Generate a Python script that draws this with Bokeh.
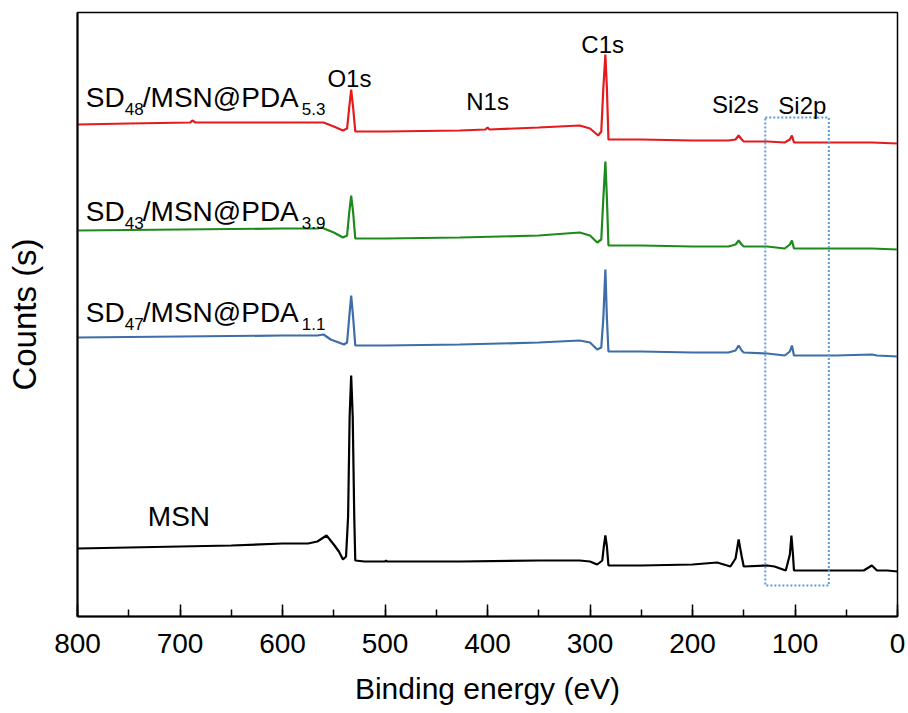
from bokeh.plotting import figure
from bokeh.models import Range1d, SingleIntervalTicker, FixedTicker
from bokeh.core.properties import value
from bokeh.embed import file_html
from bokeh.resources import INLINE

# ---- data (binding energy in eV, counts in arbitrary units, offset stacked) ----
msn_x = [800, 750, 700, 650, 600, 575, 566, 557, 550, 545, 541, 538, 536, 534.5, 533, 531.5, 530, 529,
         520, 500, 499, 498, 450, 427, 350, 310, 300, 293, 288, 286.5, 285, 283.5, 282, 250, 200, 176,
         163, 158, 155, 152, 150, 127, 120, 109, 105, 103.5, 102, 101, 60, 33, 25, 20, 10, 0]
msn_y = [68, 69, 70, 71, 73, 73, 75, 81, 72, 65, 57, 60, 100, 200, 241, 200, 100, 56,
         55, 55, 56, 55, 55, 55, 56, 56, 55, 52, 56, 70, 81, 70, 51, 51, 52, 54,
         50, 58, 77, 60, 50, 51, 50, 46, 62, 81, 62, 46, 46, 46, 51, 46, 46, 45]

sd47_x = [800, 700, 600, 566, 560, 553, 540, 537, 535, 533, 531, 529, 500, 427, 350, 310, 300, 293,
          289, 287, 285, 283.5, 282, 250, 200, 165, 158, 155, 152, 150, 127, 110, 105, 103, 101,
          60, 25, 20, 0]
sd47_y = [279, 280, 281, 281, 282, 277, 272, 274, 298, 321, 298, 271, 271, 272, 274, 276, 274, 267,
          269, 298, 347, 298, 265, 265, 264, 264, 266, 271, 266, 264, 263, 261, 265, 271, 261,
          261, 262, 261, 260]

sd43_x = [800, 700, 600, 566, 562, 550, 541, 537, 535, 533, 531, 529, 500, 427, 350, 310, 300, 293,
          289, 287, 285, 283.5, 282, 250, 200, 165, 158, 155, 152, 150, 127, 110, 105, 103, 101,
          60, 25, 0]
sd43_y = [386, 387, 388, 388, 389, 384, 379, 381, 403, 421, 403, 378, 378, 379, 381, 384, 381, 374,
          377, 418, 455, 418, 371, 371, 370, 370, 372, 376, 372, 370, 370, 368, 372, 376, 368,
          368, 368, 367]

sd48_x = [800, 750, 690, 688, 685, 600, 560, 550, 541, 537, 535, 533, 531, 529, 500, 427, 402, 400,
          398, 350, 310, 300, 292, 289, 287, 285, 283.5, 282, 250, 200, 165, 158, 155, 152, 150,
          127, 110, 105, 103, 101, 60, 25, 0]
sd48_y = [492, 493, 494, 496, 494, 494, 494, 490, 486, 488, 508, 527, 508, 485, 485, 486, 487, 489,
          487, 489, 491, 488, 481, 485, 528, 562, 528, 477, 477, 476, 476, 477, 481, 477, 475,
          475, 474, 477, 481, 474, 474, 474, 473]

series_colors = ["#000000", "#3D6EA7", "#1E8A1E", "#E41A1C"]

# dotted Si2p box
box_left, box_right, box_bottom, box_top = 129, 67, 31, 499

# peak labels
peak_labels = ["O1s", "N1s", "C1s", "Si2s", "Si2p"]
peak_label_x = [534.7, 399.9, 287.6, 158.2, 92.8]
peak_label_y = [538, 515, 572, 512, 511]

# sample labels (main text pieces and subscripts)
sample_main = ["SD", "/MSN@PDA", "SD", "/MSN@PDA", "SD", "/MSN@PDA", "MSN"]
sample_main_x = [792, 736.3, 792, 736.3, 792, 736.3, 731.4]
sample_main_y = [519, 519, 405, 405, 304, 304, 100]
sample_sub = ["48", "5.3", "43", "3.9", "47", "1.1"]
sample_sub_x = [753.9, 581.1, 753.9, 581.1, 753.9, 581.1]
sample_sub_y = [508, 508, 394, 394, 293, 293]

FONT = value("Liberation Sans")

p = figure(frame_width=820, frame_height=604, output_backend="svg", toolbar_location=None,
           x_range=Range1d(800, 0), y_range=Range1d(0, 604),
           min_border_left=77, min_border_right=10, min_border_top=12, min_border_bottom=87)
p.background_fill_color = "white"
p.border_fill_color = "white"
p.grid.visible = False
p.outline_line_color = "black"
p.outline_line_width = 1.5

# spectra
for xs, ys, c in [(msn_x, msn_y, series_colors[0]), (sd47_x, sd47_y, series_colors[1]),
                  (sd43_x, sd43_y, series_colors[2]), (sd48_x, sd48_y, series_colors[3])]:
    p.line(xs, ys, line_color=c, line_width=2.2)

# dotted box
p.quad(left=[box_left], right=[box_right], bottom=[box_bottom], top=[box_top],
       fill_color=None, line_color="#5B9BD5", line_width=2, line_dash="2 2")

# texts
p.text(x=peak_label_x, y=peak_label_y, text=peak_labels, text_font=FONT, text_font_size="24px",
       text_align="center", text_baseline="alphabetic", text_color="black")
p.text(x=sample_main_x, y=sample_main_y, text=sample_main, text_font=FONT, text_font_size="28px",
       text_align="left", text_baseline="alphabetic", text_color="black")
p.text(x=sample_sub_x, y=sample_sub_y, text=sample_sub, text_font=FONT, text_font_size="17px",
       text_align="left", text_baseline="alphabetic", text_color="black")

# axes
xa = p.xaxis[0]
xa.ticker = SingleIntervalTicker(interval=100, num_minor_ticks=2)
xa.axis_label = "Binding energy (eV)"
xa.axis_label_text_font = "Liberation Sans"
xa.axis_label_text_font_size = "30px"
xa.axis_label_text_font_style = "normal"
xa.axis_label_text_color = "black"
xa.axis_label_standoff = 16
xa.major_label_text_font = "Liberation Sans"
xa.major_label_text_font_size = "28px"
xa.major_label_text_color = "black"
xa.major_label_standoff = 17
xa.major_tick_in = 12
xa.major_tick_out = 0
xa.minor_tick_in = 7
xa.minor_tick_out = 0
xa.axis_line_width = 2
xa.major_tick_line_width = 1.5
xa.minor_tick_line_width = 1.5

ya = p.yaxis[0]
ya.ticker = FixedTicker(ticks=[])
ya.axis_label = "Counts (s)"
ya.axis_label_text_font = "Liberation Sans"
ya.axis_label_text_font_size = "33px"
ya.axis_label_text_font_style = "normal"
ya.axis_label_text_color = "black"
ya.axis_label_standoff = 35
ya.major_label_text_font_size = "0px"
ya.major_tick_in = 0
ya.major_tick_out = 0
ya.minor_tick_in = 0
ya.minor_tick_out = 0
ya.axis_line_width = 2

open("out.html", "w").write(file_html(p, INLINE))
